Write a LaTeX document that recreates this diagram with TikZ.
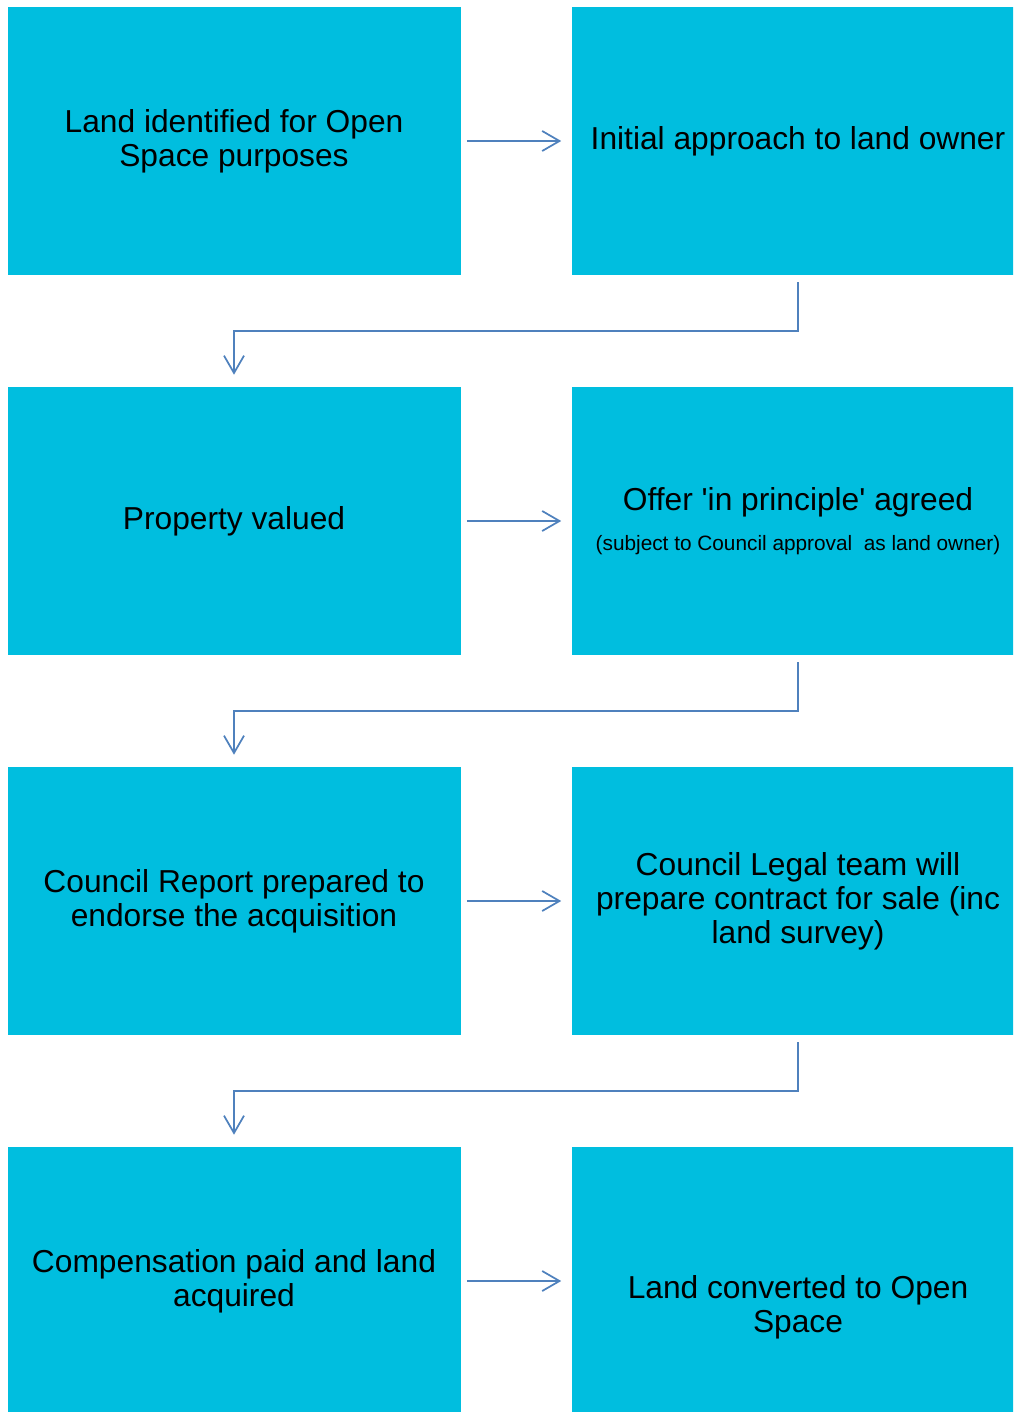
\documentclass[tikz,border=0pt]{standalone}
\usepackage{fontspec}
\setmainfont{Liberation Sans}
\usetikzlibrary{arrows.meta}
\usetikzlibrary{positioning}

\definecolor{boxcyan}{RGB}{0,190,223}
\definecolor{flowblue}{RGB}{79,129,189}

\tikzset{
  box/.style={fill=boxcyan, draw=none, minimum width=339.75pt, minimum height=201pt,
    align=center, inner sep=0pt, font=\fontsize{23.8}{25.5}\selectfont},
  flow/.style={draw=flowblue, line width=1.3pt, -{Straight Barb[length=13pt,width=15pt]}},
}
\newcommand{\smallnote}{\fontsize{15.6}{18}\selectfont}

\begin{document}
\begin{tikzpicture}[x=0.75pt, y=-0.75pt]
\useasboundingbox (0,0) rectangle (1013,1412);
\clip (0,0) rectangle (1013,1412);

\node[box] (b1) at (234,141) {Land identified for Open\\Space purposes};
\node[box] (b2) at (798,141) {Initial approach to land owner};
\node[box] (b3) at (234,521) {Property valued};
\node[box] (b4) at (798,521) {Offer \textquotesingle in principle\textquotesingle\ agreed\\[4pt]{\smallnote (subject to Council approval\ \ as land owner)}};
\node[box] (b5) at (234,901) {Council Report prepared to\\endorse the acquisition};
\node[box] (b6) at (798,901) {Council Legal team will\\prepare contract for sale (inc\\land survey)};
\node[box] (b7) at (234,1281) {Compensation paid and land\\acquired};
\node[box, minimum height=240pt, anchor=north] (b8) at (798,1147) {Land converted to Open\\Space};

% across
\draw[flow, shorten <=4.5pt, shorten >=7.5pt] (b1) -- (b2);
\draw[flow, shorten <=4.5pt, shorten >=7.5pt] (b3) -- (b4);
\draw[flow, shorten <=4.5pt, shorten >=7.5pt] (b5) -- (b6);
\draw[flow, shorten <=4.5pt, shorten >=7.5pt] (b7.east |- b7) -- (b8.west |- b7);

% down to next row
\draw[flow, shorten <=5.25pt, shorten >=9pt] (b2.south) -- ++(0,56) -| (b3.north);
\draw[flow, shorten <=5.25pt, shorten >=9pt] (b4.south) -- ++(0,56) -| (b5.north);
\draw[flow, shorten <=5.25pt, shorten >=9pt] (b6.south) -- ++(0,56) -| (b7.north);
\end{tikzpicture}
\end{document}
